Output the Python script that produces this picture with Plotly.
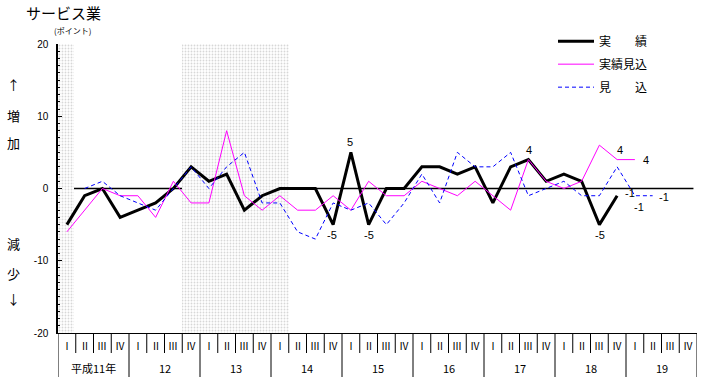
import plotly.graph_objects as go

# ---- data ----
quarter_labels = ["Ⅰ", "Ⅱ", "Ⅲ", "Ⅳ"] * 9
year_labels = ["平成11年", "12", "13", "14", "15", "16", "17", "18", "19"]
actual = [-5, -1, 0, -4, -3, -2, 0, 3, 1, 2, -3, -1, 0, 0, 0, -5, 5, -5, 0, 0,
          3, 3, 2, 3, -2, 3, 4, 1, 2, 1, -5, -1]
actual_est = [-6, -3, 0, -1, -1, -4, 1, -2, -2, 8, -1, -3, -1, -3, -3, -1, -3, 1, -1, -1,
              1, 0, -1, 1, -1, -3, 4, 1, 0, 1, 6, 4, 4]
forecast = [None, 0, 1, -1, -2, -3, 0, 3, 0, 3, 5, -2, -2, -6, -7, -2, -3, -2, -5, -2,
            2, -2, 5, 3, 3, 5, -1, 0, 1, -1, -1, 3, -1, -1]
shade_start = [-0.5, 6.5]
shade_end = [0.4, 12.5]
y_ticks = [-20, -10, 0, 10, 20]
y_ticktext = ["-20", "-10", "0", "10", "20"]

n = len(quarter_labels)
xs = list(range(n))

JP = "Noto Sans CJK JP"
NUM = "Liberation Sans"

# body margin is removed by post_script, figure sits at (0, 0)
W, H = 706, 377
PT, PB = 44, 333          # plot top / bottom in page pixels
PH = PB - PT


def py(ypix):
    return (PB - ypix) / PH


def px(xpix):
    return (xpix - 58) / 639


fig = go.Figure()

# shaded periods (dotted pattern)
fig.add_trace(go.Bar(
    x=[(s + e) / 2 for s, e in zip(shade_start, shade_end)],
    width=[e - s for s, e in zip(shade_start, shade_end)],
    y=[40 for _ in shade_start], base=[-20 for _ in shade_start],
    marker=dict(color="white", line=dict(width=0),
                pattern=dict(shape=".", fgcolor="#b0b0b0", bgcolor="white",
                             size=3, solidity=0.3)),
    showlegend=False, hoverinfo="skip"))

fig.add_trace(go.Scatter(x=xs[:len(actual)], y=actual, mode="lines", name="実　　績",
                         line=dict(color="black", width=3), legendgroup="a"))
fig.add_trace(go.Scatter(x=xs[:len(actual_est)], y=actual_est, mode="lines", name="実績見込",
                         line=dict(color="#ff00ff", width=1), legendgroup="b"))
fig.add_trace(go.Scatter(x=xs[:len(forecast)], y=forecast, mode="lines", name="見　　込",
                         line=dict(color="#0000ff", width=1, dash="4px,3px"),
                         legendgroup="c", connectgaps=False))

shapes = []
# zero line
shapes.append(dict(type="line", xref="x", yref="y", x0=0, x1=35.3, y0=0, y1=0,
                   line=dict(color="black", width=1.5), layer="below"))
# x-axis separators
for i in range(n + 1):
    b = i - 0.5
    is_year = (i % 4 == 0)
    shapes.append(dict(type="line", xref="x", yref="paper", x0=b, x1=b,
                       y0=0, y1=py(377) if is_year else py(353),
                       line=dict(color="black", width=1)))

annotations = []
for i, q in enumerate(quarter_labels):
    annotations.append(dict(x=i, y=py(345), xref="x", yref="paper", text=q,
                            showarrow=False, yanchor="middle",
                            font=dict(family=JP, size=10, color="black")))
for k, yl in enumerate(year_labels):
    annotations.append(dict(x=4 * k + 1.5, y=py(368), xref="x", yref="paper", text=yl,
                            showarrow=False, yanchor="middle",
                            font=dict(family=JP, size=11, color="black")))

# title
annotations.append(dict(x=px(24), y=py(12), xref="paper", yref="paper", text="サービス業",
                        showarrow=False, xanchor="left", yanchor="middle",
                        font=dict(family=JP, size=15, color="black")))
# side labels
for txt, ypix in [("↑", 84), ("増", 115), ("加", 142), ("減", 243), ("少", 273), ("↓", 298)]:
    annotations.append(dict(x=px(13), y=py(ypix), xref="paper", yref="paper",
                            text=txt, showarrow=False, xanchor="center", yanchor="middle",
                            font=dict(family=JP, size=13, color="black")))
annotations.append(dict(x=px(72), y=py(31), xref="paper", yref="paper",
                        text="(ポイント)", showarrow=False, xanchor="center", yanchor="middle",
                        font=dict(family=JP, size=8, color="black")))


# data labels
def lab(series, idx, xs_, ys_, xa="center"):
    v = series[idx]
    annotations.append(dict(x=idx, y=v, xref="x", yref="y", text=str(v),
                            showarrow=False, xshift=xs_, yshift=ys_, xanchor=xa,
                            font=dict(family=NUM, size=11, color="black")))


lab(actual, 15, -1, -10)
lab(actual, 16, -1, 10)
lab(actual, 17, 0, -10)
lab(actual, 26, 1, 10)
lab(actual, 30, 1, -10)
lab(actual, 31, 6, 3, "left")
lab(actual_est, 31, 3, 10)
lab(actual_est, 32, 6, 0, "left")
lab(forecast, 32, 4, -11)
lab(forecast, 33, 4, -1, "left")

fig.update_layout(
    width=W, height=H,
    margin=dict(l=58, r=9, t=PT, b=377 - PB),
    paper_bgcolor="white", plot_bgcolor="white",
    showlegend=True,
    legend=dict(x=px(553), y=1.06, xanchor="left", yanchor="top",
                bgcolor="rgba(0,0,0,0)", tracegroupgap=4, itemwidth=36,
                font=dict(family=JP, size=12, color="black")),
    shapes=shapes, annotations=annotations,
    bargap=0,
)
fig.update_xaxes(range=[-0.5, 35.5], showticklabels=False, showgrid=False, zeroline=False,
                 showline=True, linecolor="black", linewidth=1, ticks="")
fig.update_yaxes(range=[-20, 20], tickvals=y_ticks, ticktext=y_ticktext, showgrid=False,
                 zeroline=False, showline=True, linecolor="black", linewidth=1.5,
                 ticks="inside", ticklen=4, tickcolor="black",
                 minor=dict(dtick=1, ticks="inside", ticklen=2, tickcolor="black"),
                 ticklabelstandoff=6,
                 tickfont=dict(family=NUM, size=10, color="black"))

fig.write_html("out.html", config={"displayModeBar": False},
               post_script="document.body.style.margin='0px';document.body.style.overflow='hidden';")
